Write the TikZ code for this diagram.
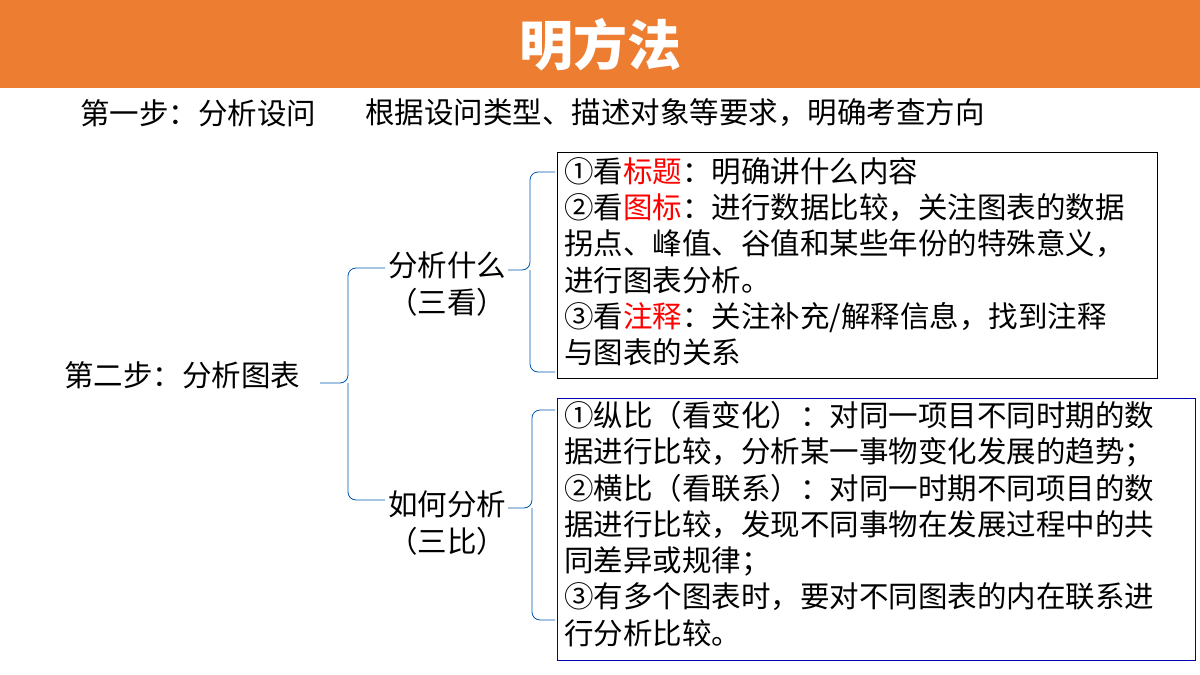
\documentclass[tikz,border=0pt]{standalone}
\usepackage{fontspec}
\newfontfamily\cjk{Noto Sans CJK SC}
\newfontfamily\cjkb{Noto Sans CJK SC Black}
\begin{document}
\begin{tikzpicture}[x=1pt,y=-1pt,
  txt/.style={font=\cjk\fontsize{29.5}{36.3}\selectfont,inner sep=0pt,anchor=west,align=left},
  brace/.style={draw=blue!50!cyan!70!black,line width=0.8pt,rounded corners=8pt}]
\useasboundingbox (0,0) rectangle (1200,675);
\fill[white] (0,0) rectangle (1200,675);
\fill[fill={rgb,255:red,237;green,125;blue,49}] (0,0) rectangle (1200,88);
\node[font=\cjkb\fontsize{54}{54}\selectfont,text=white,inner sep=0pt] (title) at (600,45) {明方法};
\node[txt] (s1) at (80,113) {第一步：分析设问};
\node[txt] (s1b) at (365,113) {根据设问类型、描述对象等要求，明确考查方向};
\node[txt] (s2) at (64,375) {第二步：分析图表};
\node[txt,anchor=center,align=center] (a) at (447,284) {分析什么\\（三看）};
\node[txt,anchor=center,align=center] (b) at (447,523) {如何分析\\（三比）};
\draw[brace] (385,268) -- (348,268) -- (348,383) -- (320,383);
\draw[brace] (385,500) -- (348,500) -- (348,383);
\draw[brace] (555,172) -- (530,172) -- (530,270) -- (508,270);
\draw[brace] (555,372) -- (530,372) -- (530,270);
\draw[brace] (555,410) -- (532,410) -- (532,508) -- (508,508);
\draw[brace] (555,620) -- (532,620) -- (532,508);
\draw[black,line width=0.8pt] (557,152) rectangle (1157,378);
\node[txt,anchor=north west] (t1) at (564,157) {①看\textcolor{red}{标题}：明确讲什么内容\\
②看\textcolor{red}{图标}：进行数据比较，关注图表的数据\\
拐点、峰值、谷值和某些年份的特殊意义，\\
进行图表分析。\\
③看\textcolor{red}{注释}：关注补充/解释信息，找到注释\\
与图表的关系};
\draw[blue!70!black,line width=0.8pt] (557,398) rectangle (1195,660);
\node[txt,anchor=north west] (t2) at (564,401) {①纵比（看变化）：对同一项目不同时期的数\\
据进行比较，分析某一事物变化发展的趋势；\\
②横比（看联系）：对同一时期不同项目的数\\
据进行比较，发现不同事物在发展过程中的共\\
同差异或规律；\\
③有多个图表时，要对不同图表的内在联系进\\
行分析比较。};
\end{tikzpicture}
\end{document}
